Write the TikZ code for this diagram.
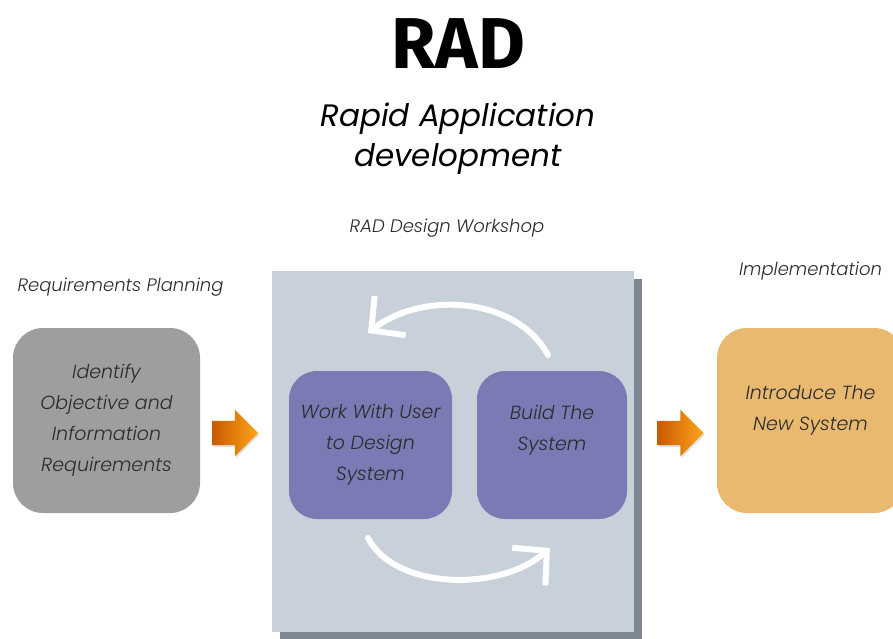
\documentclass[tikz,border=0pt]{standalone}
\usepackage{fontspec}
\setmainfont{Poppins}[ItalicFont={Poppins Light Italic}]
\newfontfamily\subfont{Poppins}
\newfontfamily\titlefont{Fira Sans}
\usepackage{xcolor}
\usetikzlibrary{arrows.meta,positioning,calc,shapes.arrows,shadows}

\definecolor{stepgray}{HTML}{9E9E9E}
\definecolor{panelblue}{HTML}{C8D0D9}
\definecolor{panelshade}{HTML}{7C8791}
\definecolor{taskpurple}{HTML}{7A7AB5}
\definecolor{implorange}{HTML}{E8B96F}
\definecolor{arrowdark}{HTML}{C85A00}
\definecolor{arrowlight}{HTML}{FFA41C}
\definecolor{inktext}{HTML}{2B2B2B}

\tikzset{
  stepbox/.style={rectangle, rounded corners=30pt, align=center, inner sep=4pt,
    font=\itshape\fontsize{19}{31}\selectfont, text=inktext},
  phase/.style={font=\itshape\fontsize{18}{24}\selectfont, text=inktext},
  blockarrow/.style={single arrow, minimum height=46pt, minimum width=46pt,
    single arrow head extend=11pt, inner xsep=0pt, inner ysep=12pt, draw=none,
    left color=arrowdark, right color=arrowlight,
    drop shadow={shadow xshift=1pt, shadow yshift=-2pt, opacity=0.25}},
  looparrow/.style={draw=white, line width=6pt, line cap=round,
    -{Straight Barb[length=24pt, width=50pt]}}
}

\begin{document}
\begin{tikzpicture}[x=1pt,y=-1pt]
    \clip (0,0) rectangle (893,639);
    \fill[white] (0,0) rectangle (893,639);

    % title
    \node (title) [font=\titlefont\bfseries\fontsize{72}{72}\selectfont] at (458,44) {RAD};
    \node (subtitle) [align=center, font=\subfont\itshape\fontsize{31}{40}\selectfont] at (458,139)
        {Rapid Application\\ development};

    % workshop panel
    \node (ws) [rectangle, fill=panelblue, minimum width=362pt, minimum height=361pt,
        drop shadow={shadow xshift=8pt, shadow yshift=-8pt, fill=panelshade, opacity=1}] at (453,451.5) {};

    \node (req) [stepbox, fill=stepgray, minimum width=187pt, minimum height=185pt] at (106.5,420.5)
        {Identify\\ Objective and\\ Information\\ Requirements};
    \node (work) [stepbox, fill=taskpurple, rounded corners=28pt, minimum width=163pt, minimum height=148pt] at (370.5,445)
        {Work With User\\ to Design\\ System};
    \node (build) [stepbox, fill=taskpurple, rounded corners=28pt, minimum width=150pt, minimum height=148pt] at (552,445)
        {Build The\\ System\\[-6pt] \strut};
    \node (impl) [stepbox, fill=implorange, minimum width=187pt, minimum height=185pt] at (810.5,420.5)
        {Introduce The\\ New System\\[-16pt] \strut};

    % phase labels
    \node (reqlabel) [phase, above=28pt of req, xshift=14pt] {Requirements Planning};
    \node (wslabel) [phase, above=30pt of ws, xshift=-6pt] {RAD Design Workshop};
    \node (impllabel) [phase, above=44pt of impl] {Implementation};

    % flow arrows
    \node (flowA) [blockarrow] at ($(req.east)!0.5!(ws.west)+(-7,-3)$) {};
    \node (flowB) [blockarrow] at ($(ws.east)!0.5!(impl.west)+(-1,-3)$) {};

    % iteration loop
    \coordinate (loopTopS) at (548,355);
    \coordinate (loopTopE) at (368,333);
    \coordinate (loopBotS) at (368,538);
    \coordinate (loopBotE) at (550,548);
    \draw[looparrow] (loopTopS) .. controls (515,295) and (420,292) .. (loopTopE);
    \draw[looparrow] (loopBotS) .. controls (395,590) and (500,592) .. (loopBotE);
\end{tikzpicture}
\end{document}
